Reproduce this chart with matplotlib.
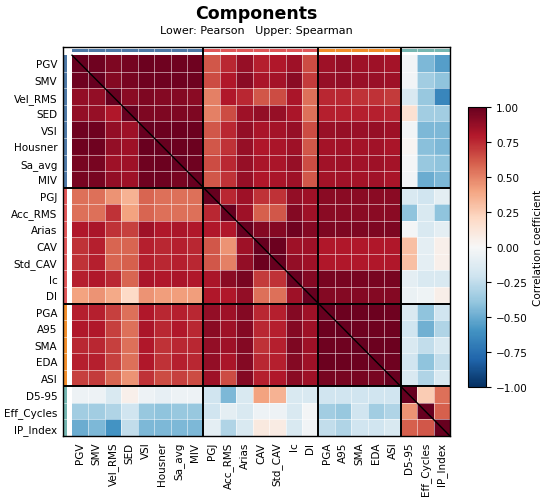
import numpy as np
import matplotlib
matplotlib.use("Agg")
import matplotlib.pyplot as plt
from matplotlib.patches import Rectangle

labels = ["PGV", "SMV", "Vel_RMS", "SED", "VSI", "Housner", "Sa_avg", "MIV",
          "PGJ", "Acc_RMS", "Arias", "CAV", "Std_CAV", "Ic", "DI",
          "PGA", "A95", "SMA", "EDA", "ASI",
          "D5-95", "Eff_Cycles", "IP_Index"]
group_sizes = [8, 7, 5, 3]
group_colors = ["#4e79a7", "#e15759", "#f28e2b", "#76b7b2"]

# lower triangle = Pearson, upper triangle = Spearman
corr = [
    [1, .97, .93, .96, .98, .97, .97, .97, .62, .75, .87, .78, .80, .85, .65, .85, .88, .85, .85, .83, -.03, -.45, -.55],
    [.97, 1, .92, .95, .97, .97, .97, .97, .65, .80, .90, .82, .83, .90, .70, .87, .88, .86, .86, .85, -.03, -.35, -.40],
    [.88, .88, 1, .90, .93, .92, .92, .90, .50, .80, .75, .62, .65, .82, .55, .75, .75, .72, .72, .70, -.15, -.38, -.65],
    [.88, .87, .80, 1, .93, .93, .93, .93, .50, .65, .85, .88, .87, .82, .55, .78, .78, .78, .78, .76, .15, -.35, -.35],
    [.97, .97, .88, .85, 1, .98, .98, .98, .62, .75, .88, .82, .83, .87, .65, .86, .87, .86, .87, .85, -.03, -.45, -.45],
    [.97, .97, .88, .85, .99, 1, .98, .98, .62, .72, .87, .80, .82, .85, .62, .83, .84, .83, .84, .82, .02, -.42, -.45],
    [.95, .95, .85, .85, .97, .98, 1, .97, .65, .75, .87, .82, .82, .87, .65, .84, .85, .84, .85, .83, -.02, -.38, -.40],
    [.95, .95, .88, .85, .97, .97, .95, 1, .62, .72, .87, .80, .82, .85, .62, .83, .84, .83, .84, .82, -.03, -.50, -.45],
    [.55, .55, .45, .35, .58, .55, .55, .55, 1, .75, .85, .72, .72, .88, .85, .90, .90, .90, .90, .90, -.15, -.20, -.10],
    [.55, .55, .72, .40, .58, .55, .55, .55, .75, 1, .85, .60, .62, .92, .85, .90, .90, .90, .90, .90, -.40, -.15, -.40],
    [.80, .82, .72, .68, .85, .80, .82, .80, .80, .80, 1, .92, .92, .97, .92, .93, .93, .93, .93, .93, -.02, -.15, -.10],
    [.72, .78, .58, .58, .78, .75, .78, .75, .62, .45, .85, 1, .98, .85, .85, .80, .80, .80, .80, .80, .30, -.10, .05],
    [.72, .78, .58, .60, .78, .75, .78, .75, .62, .50, .88, .98, 1, .88, .85, .80, .80, .80, .80, .80, .30, -.10, .05],
    [.78, .80, .75, .58, .82, .80, .82, .80, .82, .90, .95, .70, .72, 1, .92, .95, .95, .95, .95, .95, -.10, -.15, -.15],
    [.40, .45, .38, .20, .45, .42, .42, .42, .80, .80, .88, .55, .55, .85, 1, .92, .92, .92, .92, .92, -.07, -.04, .06],
    [.78, .78, .68, .55, .80, .75, .78, .75, .88, .85, .92, .75, .78, .92, .85, 1, .98, .98, .98, .97, -.15, -.40, -.20],
    [.80, .80, .68, .55, .82, .75, .80, .75, .90, .85, .92, .75, .78, .92, .85, .98, 1, .97, .97, .97, -.20, -.48, -.30],
    [.75, .75, .68, .55, .80, .72, .75, .75, .88, .85, .92, .72, .78, .93, .85, .97, .97, 1, .98, .98, -.15, -.25, -.15],
    [.78, .78, .68, .55, .80, .72, .78, .75, .88, .82, .92, .75, .78, .92, .85, .98, .98, .98, 1, .97, -.20, -.40, -.25],
    [.68, .70, .58, .45, .72, .65, .68, .65, .85, .65, .92, .78, .80, .90, .85, .95, .95, .95, .95, 1, -.15, -.30, -.15],
    [-.05, -.05, -.15, .05, -.05, -.08, -.05, -.05, -.20, -.45, -.15, .40, .35, -.15, -.15, -.20, -.20, -.20, -.20, -.20, 1, .25, .55],
    [-.35, -.35, -.30, -.20, -.38, -.40, -.38, -.38, -.20, -.10, -.15, -.05, -.05, -.15, -.02, -.35, -.38, -.20, -.35, -.30, .45, 1, .60],
    [-.50, -.45, -.60, -.25, -.45, -.45, -.45, -.45, -.10, -.30, -.15, .10, .08, -.15, -.03, -.25, -.30, -.20, -.20, -.15, .60, .62, 1],
]

mat = np.array(corr, dtype=float)
n = len(labels)

fig = plt.figure(figsize=(5.5, 5.02), dpi=100)
ax = fig.add_axes([0.1145, 0.1295, 0.7036, 0.775])

im = ax.imshow(mat, cmap="RdBu_r", vmin=-1, vmax=1, extent=(0, n, n, 0),
               aspect="auto", interpolation="nearest")
ax.set_xlim(-0.55, n)
ax.set_ylim(n, -0.5)

# group colour strips
start = 0
for size, col in zip(group_sizes, group_colors):
    ax.add_patch(Rectangle((start, -0.36), size, 0.18, color=col, lw=0))
    ax.add_patch(Rectangle((-0.49, start), 0.17, size, color=col, lw=0))
    start += size

# thin white cell grid
for k in range(1, n):
    ax.axvline(k, color="white", lw=0.6, alpha=0.6)
    ax.axhline(k, color="white", lw=0.6, alpha=0.6)

# group boundaries
for b in np.cumsum(group_sizes)[:-1]:
    ax.axvline(b, color="black", lw=1.4)
    ax.axhline(b, color="black", lw=1.4)

ax.plot([0, n], [0, n], color="black", lw=1)

ax.set_xticks(np.arange(n) + 0.5)
ax.set_yticks(np.arange(n) + 0.5)
ax.set_xticklabels(labels, rotation=90, fontsize=7.5)
ax.set_yticklabels(labels, fontsize=7.5)
ax.tick_params(length=0, pad=4)
for s in ax.spines.values():
    s.set_linewidth(1)

cax = fig.add_axes([0.851, 0.227, 0.033, 0.558])
cb = fig.colorbar(im, cax=cax, ticks=np.arange(-1, 1.01, 0.25))
cb.ax.tick_params(labelsize=7.5)
cb.set_label("Correlation coefficient", fontsize=7.5)

fig.text(0.466, 0.972, "Components", ha="center", va="center",
         fontsize=12.5, fontweight="bold")
fig.text(0.466, 0.939, "Lower: Pearson   Upper: Spearman", ha="center",
         va="center", fontsize=8)

fig.savefig("out.png", dpi=100)
